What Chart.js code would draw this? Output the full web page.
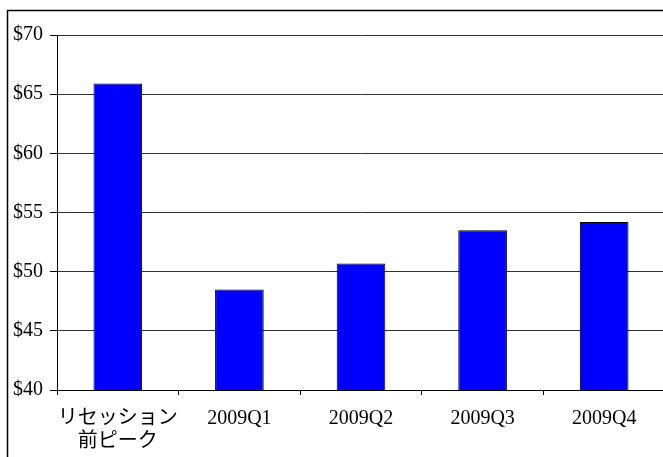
<!DOCTYPE html>
<html>
<head>
<meta charset="utf-8">
<script src="https://cdn.jsdelivr.net/npm/chart.js@4/dist/chart.umd.min.js"></script>
<style>
  html, body { margin: 0; padding: 0; background: #fff; overflow: hidden; }
  #wrap { position: relative; width: 672px; height: 457px; }
</style>
</head>
<body>
<div id="wrap"><canvas id="c"></canvas></div>
<script>
// Average price per period (USD)
const categories = [['リセッション', '前ピーク'], '2009Q1', '2009Q2', '2009Q3', '2009Q4'];
const prices = [65.9, 48.5, 50.7, 53.5, 54.2];
const yTicks = [40, 45, 50, 55, 60, 65, 70];

const FONT = "'Liberation Serif', 'Times New Roman', 'Noto Sans CJK JP', serif";

// Thin black frame around the whole chart block
const framePlugin = {
  id: 'frame',
  afterDraw(chart) {
    const ctx = chart.ctx;
    ctx.save();
    ctx.strokeStyle = '#000';
    ctx.lineWidth = 1.5;
    ctx.beginPath();
    ctx.moveTo(7.5, chart.height + 5);
    ctx.lineTo(7.5, 10.5);
    ctx.lineTo(chart.width + 5, 10.5);
    ctx.stroke();
    ctx.restore();
  }
};

new Chart(document.getElementById('c'), {
  type: 'bar',
  data: {
    labels: categories,
    datasets: [{
      data: prices,
      backgroundColor: '#0000FF',
      borderColor: '#000',
      borderWidth: 1,
      borderSkipped: 'bottom',
      categoryPercentage: 1.0,
      barPercentage: 0.4
    }]
  },
  options: {
    responsive: true,
    maintainAspectRatio: false,
    animation: false,
    layout: { padding: { top: 35, right: 7, left: 0, bottom: 0 } },
    plugins: {
      legend: { display: false },
      tooltip: { enabled: false },
      title: { display: false }
    },
    scales: {
      x: {
        offset: true,
        grid: {
          offset: true,
          drawOnChartArea: false,
          drawTicks: true,
          tickLength: 5,
          color: '#000'
        },
        border: { color: '#000', width: 1 },
        ticks: {
          color: '#000',
          font: { family: FONT, size: 20, lineHeight: 1.15 },
          padding: 12,
          maxRotation: 0,
          autoSkip: false
        },
        afterFit(scale) { scale.height = 67; }
      },
      y: {
        min: 40,
        max: 70,
        afterBuildTicks(scale) {
          scale.ticks = yTicks.map(v => ({ value: v }));
        },
        grid: {
          color: '#333',
          lineWidth: 1,
          drawTicks: true,
          tickLength: 7,
          tickColor: '#000'
        },
        border: { color: '#000', width: 1 },
        ticks: {
          color: '#000',
          font: { family: FONT, size: 20 },
          padding: 7,
          callback: v => '$' + v
        },
        afterFit(scale) { scale.width = 57; }
      }
    }
  },
  plugins: [framePlugin]
});
</script>
</body>
</html>
